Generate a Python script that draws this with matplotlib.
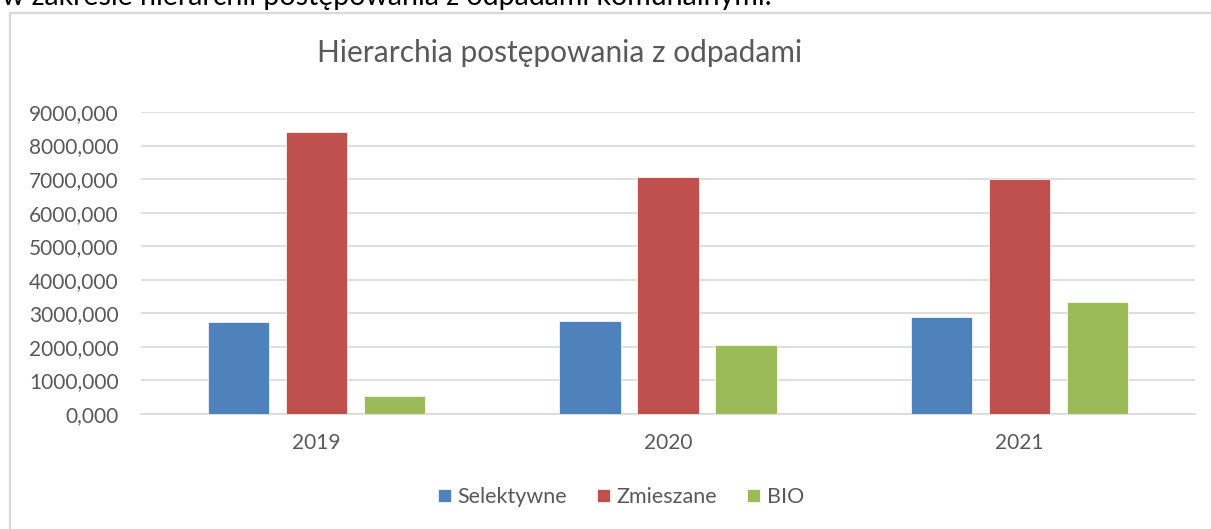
import numpy as np
import matplotlib.pyplot as plt
from matplotlib.ticker import FuncFormatter
from matplotlib.lines import Line2D

plt.rcParams['font.family'] = ['Lato', 'DejaVu Sans']

# Data
years = ['2019', '2020', '2021']
selektywne = [2730, 2770, 2890]
zmieszane = [8390, 7050, 7000]
bio = [540, 2050, 3330]

series = [('Selektywne', selektywne, '#4f81bd'),
          ('Zmieszane', zmieszane, '#c0504d'),
          ('BIO', bio, '#9bbb59')]

W, H = 1211, 529
fig = plt.figure(figsize=(W / 100, H / 100), dpi=100)
ax = fig.add_axes([141 / W, 1 - 414 / H, (1195 - 141) / W, (414 - 112) / H])

x = np.arange(len(years))
width = 0.174
step = 0.222
for i, (name, vals, col) in enumerate(series):
    ax.bar(x + (i - 1) * step, vals, width, color=col, label=name, zorder=3,
           edgecolor='white', linewidth=0.5)

ax.set_xlim(-0.5, 2.5)
ax.set_ylim(0, 9000)
ax.set_yticks(np.arange(0, 9001, 1000))
ax.yaxis.set_major_formatter(FuncFormatter(lambda v, p: f'{v:.3f}'.replace('.', ',')))
ax.set_xticks(x)
ax.set_xticklabels(years)
ax.tick_params(axis='both', length=0, labelsize=15, colors='#595959')
ax.tick_params(axis='x', pad=14)
ax.tick_params(axis='y', pad=16)
ax.grid(axis='y', color='#d9d9d9', linewidth=1.2, zorder=0)
for s in ['top', 'right', 'left']:
    ax.spines[s].set_visible(False)
ax.spines['bottom'].set_color('#d9d9d9')
ax.spines['bottom'].set_linewidth(1.2)

fig.text(560 / W, 1 - 53 / H, 'Hierarchia postępowania z odpadami',
         ha='center', va='center', fontsize=21.5, color='#595959')

leg = fig.legend(loc='center', bbox_to_anchor=(621 / W, 1 - 497 / H), ncol=3,
                 frameon=False, fontsize=15.5, handlelength=0.6, handleheight=0.6,
                 handletextpad=0.3, columnspacing=1.4)
for t in leg.get_texts():
    t.set_color('#595959')

# chart frame (cut off on the right and bottom)
fig.add_artist(Line2D([10 / W, 10 / W], [0, 1 - 13 / H], color='#d9d9d9', lw=1.6))
fig.add_artist(Line2D([10 / W, 1], [1 - 13 / H, 1 - 13 / H], color='#d9d9d9', lw=1.6))

# surrounding document text, cut off at the top as in the source page
fig.text(2 / W, 1 - 5 / H, 'w zakresie hierarchii postępowania z odpadami komunalnymi.',
         ha='left', va='baseline', fontsize=20.5, color='black')

fig.savefig('out.png', dpi=100)
